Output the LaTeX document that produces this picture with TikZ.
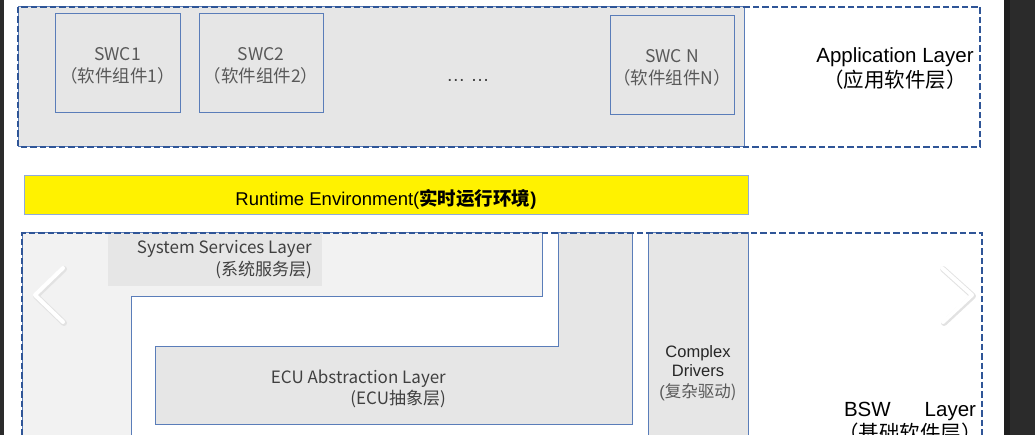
\documentclass[tikz,border=0pt]{standalone}
\usepackage{fontspec}
\setmainfont{Liberation Sans}
\newfontfamily\cjk{Noto Sans CJK SC}
\definecolor{dashblue}{HTML}{2F5597}
\definecolor{lineblue}{HTML}{5A7DB9}
\definecolor{rteline}{HTML}{8FAADC}
\definecolor{fillgray}{HTML}{E6E6E6}
\definecolor{paleg}{HTML}{F2F2F2}
\definecolor{darkbg}{HTML}{2B2B2B}
\definecolor{txtgray}{HTML}{595959}
\definecolor{txtdark}{HTML}{404040}
\definecolor{chevshadow}{HTML}{E2E2E2}
\tikzset{
  dashbox/.style={draw=dashblue, line width=1.8pt, dash pattern=on 6.5pt off 3pt},
  solidbox/.style={draw=lineblue, line width=1pt},
  swcbox/.style={solidbox, fill=fillgray, minimum width=125pt, minimum height=99pt,
    inner sep=0pt},
  swctext/.style={inner sep=0pt, align=center, text=txtgray, font=\cjk\fontsize{17.5}{22}\selectfont},
  lbl/.style={inner sep=0pt},
  chev/.style={draw=white, line width=4pt, line cap=round, line join=round},
  chevsh/.style={draw=chevshadow, line width=6pt, line cap=round, line join=round}
}
\begin{document}
\begin{tikzpicture}[x=1pt,y=-1pt]
\useasboundingbox (0,0) rectangle (1035,435);
\clip (0,0) rectangle (1035,435);
% dark screen edges
\fill[darkbg] (0,0) rectangle (4,435);
\fill[darkbg] (1004,0) rectangle (1035,435);
\fill[black!88] (1004,0) rectangle (1010,435);

% ---------- Application layer ----------
\draw[solidbox, fill=fillgray] (18,7) rectangle (744,147);
\node[swcbox] (swc1) at (117.5,63.5) {};
\node[swctext] (swc1t) at (117.5,66) {SWC1\\（软件组件1）};
\node[swcbox, minimum width=124pt] (swc2) at (261,63) {};
\node[swctext] (swc2t) at (261,66) {SWC2\\（软件组件2）};
\node[lbl, text=txtdark, font=\fontsize{19}{22}\selectfont] (dots) at (468,80) {…\ …};
\node[swcbox, minimum width=124pt] (swcn) at (672,65.5) {};
\node[swctext] (swcnt) at (672,68) {SWC N\\（软件组件N）};
\draw[dashbox] (18,7) rectangle (980,147);
\node[lbl, align=center, font=\fontsize{20.5}{25}\selectfont] (applbl) at (895,69)
  {Application Layer\\{\cjk （应用软件层）}};

% ---------- RTE ----------
\node[draw=rteline, line width=1pt, fill=yellow, minimum width=724pt, minimum height=39pt,
  inner sep=0pt] (rte) at (386,195.5) {};
\node[lbl, font=\fontsize{18.5}{22}\selectfont] (rtet) at (386,199)
  {Runtime Environment({\cjk\bfseries 实时运行环境}\textbf{)}};

% ---------- BSW ----------
\draw[solidbox, fill=paleg] (22,233) -- (542,233) -- (542,297) -- (131,297) -- (131,445) -- (22,445) -- cycle;
\fill[fillgray] (108,233.5) rectangle (322,286);
\node[lbl, anchor=north east, align=right, text=txtdark, font=\cjk\fontsize{17}{22}\selectfont]
  (sslbl) at (312,240.5) {System Services Layer\\(系统服务层)};
\draw[solidbox, fill=fillgray] (558,233) -- (632,233) -- (632,424) -- (155,424) -- (155,346) -- (558,346) -- cycle;
\node[lbl, anchor=east, align=right, text=txtdark, font=\cjk\fontsize{17}{21}\selectfont]
  (eculbl) at (446,389) {ECU Abstraction Layer\\(ECU抽象层)};
\draw[solidbox, fill=fillgray] (648,233) rectangle (748,445);
\node[lbl, align=center, text=black!85, font=\fontsize{16.5}{19}\selectfont] (cdlbl) at (698,373)
  {Complex\\Drivers\\[2pt]{\color{txtgray}(\cjk 复杂驱动)}};
\draw[dashbox] (22,445) -- (22,233) -- (982,233) -- (982,445);
\node[lbl, anchor=north, align=center, font=\fontsize{20.5}{24}\selectfont] (bswlbl) at (910,402)
  {BSW\hspace{34pt}Layer\\{\cjk （基础软件层）}};

% ---------- carousel chevrons ----------
\draw[chevsh] (64,269) -- (36,296) -- (64,323);
\draw[chev] (63,268) -- (35,295) -- (63,322);
\draw[chevsh] (943,269) -- (973,296) -- (944,323);
\draw[chev] (942,268) -- (972,295) -- (943,322);
\end{tikzpicture}
\end{document}
